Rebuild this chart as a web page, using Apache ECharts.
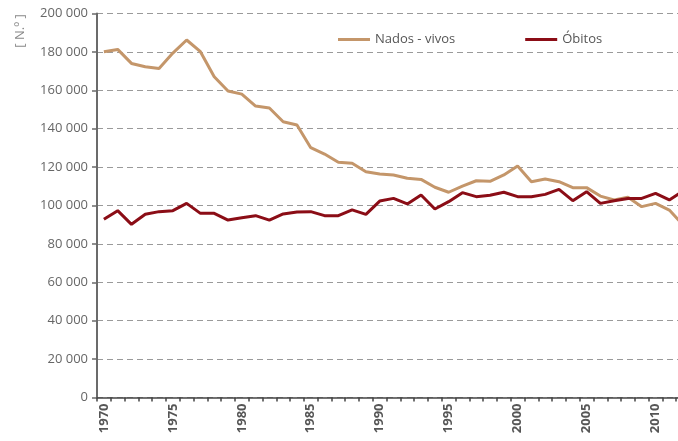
<!DOCTYPE html>
<html>
<head>
<meta charset="utf-8">
<script src="https://cdn.jsdelivr.net/npm/echarts@6/dist/echarts.min.js"></script>
<style>
  html, body { margin: 0; padding: 0; background: #fff; overflow: hidden; }
  /* the reference is cut off on the right, so the canvas runs past the window */
  #chart { width: 690px; height: 441px; }
</style>
</head>
<body>
<div id="chart"></div>
<script>
// anos 1970 - 2012
var years = [];
for (var y = 1970; y <= 2012; y++) years.push(String(y));

var nadosVivos = [180100, 181300, 174000, 172300, 171400, 179400, 186200, 180100, 167100, 159600,
  158000, 151800, 150800, 143600, 141900, 130100, 126800, 122500, 122000, 117600,
  116400, 115900, 114200, 113600, 109500, 106900, 110100, 112900, 112600, 115900,
  120600, 112400, 113800, 112400, 109300, 109300, 104900, 102900, 104300, 99400,
  101100, 97600, 89800];

var obitos = [92800, 97300, 90200, 95400, 96800, 97300, 101100, 95900, 95900, 92400,
  93600, 94700, 92400, 95600, 96600, 96800, 94700, 94700, 97700, 95400,
  102300, 103700, 100800, 105500, 98200, 102000, 106700, 104600, 105300, 106900,
  104600, 104600, 105800, 108400, 102500, 107200, 101100, 102500, 103700, 103700,
  106300, 102900, 107600];

var chart = echarts.init(document.getElementById('chart'));

var fmt = function (v) {
  return String(v).replace(/\B(?=(\d{3})+(?!\d))/g, ' ');
};

chart.setOption({
  animation: false,
  textStyle: { fontFamily: 'Open Sans' },
  grid: { left: 97, right: 0, top: 13.5, bottom: 43.5 },
  legend: {
    left: 333,
    top: 28,
    itemWidth: 32,
    itemHeight: 3,
    itemGap: 70,
    icon: 'rect',
    textStyle: { color: '#555', fontSize: 13, fontFamily: 'Open Sans' },
    data: ['Nados - vivos', 'Óbitos']
  },
  graphic: [{
    type: 'text',
    x: 20,
    y: 31,
    rotation: Math.PI / 2,
    style: {
      text: '[ N.º ]',
      fill: '#888',
      font: '13px "Open Sans"',
      align: 'center',
      verticalAlign: 'middle'
    }
  }],
  xAxis: {
    type: 'category',
    data: years,
    boundaryGap: true,
    axisLine: { lineStyle: { color: '#444', width: 1.5 } },
    axisTick: { show: true, interval: 0, length: 4, lineStyle: { color: '#444', width: 1.5 } },
    axisLabel: {
      interval: function (i) { return i % 5 === 0; },
      rotate: 90,
      margin: 6,
      color: '#555',
      fontSize: 13,
      fontWeight: 'bold',
      fontFamily: 'Open Sans'
    },
    splitLine: { show: false }
  },
  yAxis: {
    type: 'value',
    min: 0,
    max: 200000,
    interval: 20000,
    axisLine: { show: true, lineStyle: { color: '#6b6b6b', width: 2 } },
    axisTick: { show: true, length: 5, lineStyle: { color: '#6b6b6b', width: 1.5 } },
    axisLabel: {
      formatter: fmt,
      margin: 9,
      color: '#666',
      fontSize: 13,
      fontFamily: 'Open Sans'
    },
    splitLine: { lineStyle: { color: '#9a9a9a', type: [6, 4], width: 1 } }
  },
  series: [
    {
      name: 'Nados - vivos',
      type: 'line',
      data: nadosVivos,
      showSymbol: false,
      symbol: 'none',
      color: '#c4966a',
      lineStyle: { color: '#c4966a', width: 3 }
    },
    {
      name: 'Óbitos',
      type: 'line',
      data: obitos,
      showSymbol: false,
      symbol: 'none',
      color: '#8b0d16',
      lineStyle: { color: '#8b0d16', width: 3 }
    }
  ]
});
</script>
</body>
</html>
